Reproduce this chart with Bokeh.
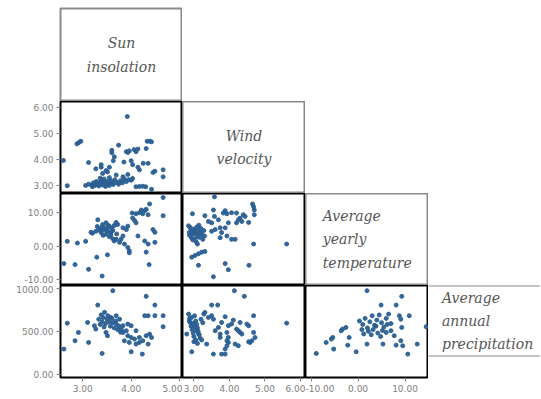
from bokeh.plotting import figure
from bokeh.layouts import gridplot
from bokeh.models import Range1d, FixedTicker, NumeralTickFormatter, Span
from bokeh.core.properties import value
from bokeh.embed import file_html
from bokeh.resources import INLINE

# ---------------- data ----------------
var_labels = ["Sun\ninsolation", "Wind\nvelocity", "Average\nyearly\ntemperature",
              "Average\nannual\nprecipitation"]

sun_ticks = [3, 4, 5]
wind_ticks = [3, 4, 5, 6]
temp_ticks = [-10, 0, 10]
precip_ticks = [0, 500, 1000]

# panel: wind velocity (y) vs sun insolation (x)
sw_sun = [3.92, 2.88, 2.92, 2.96, 4.33, 4.38, 4.42, 4.31, 3.60, 3.60, 3.90, 3.93, 3.96, 4.06, 4.10, 4.14,
          3.74, 2.60, 3.12, 3.38, 3.85, 4.00, 3.65, 3.63, 4.03, 4.14, 4.17, 4.25, 4.35, 4.49, 4.45, 4.66,
          4.66, 3.27, 3.38, 3.48, 3.55, 3.41, 3.51, 3.69, 3.83, 3.93, 4.03, 4.00, 2.68, 4.10, 4.17, 4.24,
          4.30, 4.42, 3.06, 3.12, 3.18, 3.22, 3.25, 3.28, 3.30, 3.33, 3.35, 3.38, 3.40, 3.42, 3.45, 3.47,
          3.50, 3.52, 3.55, 3.58, 3.60, 3.63, 3.66, 3.70, 3.74, 3.78, 3.82, 3.86, 3.90, 3.95, 3.36, 3.44,
          3.55, 3.20]
sw_wind = [5.65, 4.60, 4.65, 4.70, 4.70, 4.70, 4.68, 4.42, 4.26, 4.35, 4.30, 4.27, 4.33, 4.38, 4.30, 4.40,
           4.55, 3.96, 3.88, 3.80, 3.90, 3.95, 4.10, 3.95, 3.80, 3.70, 3.60, 3.85, 3.85, 3.55, 3.50, 3.60,
           3.33, 3.64, 3.70, 3.57, 3.70, 3.46, 3.52, 3.40, 3.33, 3.42, 3.27, 3.20, 2.99, 2.95, 2.96, 2.97,
           2.95, 2.85, 3.00, 3.05, 3.02, 3.10, 3.00, 3.15, 3.05, 2.98, 3.10, 3.20, 3.02, 3.12, 3.05, 2.96,
           3.15, 3.08, 3.00, 3.18, 3.10, 3.04, 3.22, 3.12, 3.05, 3.18, 3.10, 3.25, 3.15, 3.22, 3.28, 3.25,
           3.30, 2.95]

# panel: temperature (y) vs sun insolation (x)
st_sun = [4.66, 4.38, 4.21, 4.28, 4.31, 4.35, 4.24, 4.17, 4.10, 4.02, 4.66, 4.45, 4.49, 4.03, 4.10, 4.07,
          3.93, 3.90, 3.83, 3.69, 3.72, 3.65, 3.31, 3.48, 3.41, 3.55, 3.34, 3.44, 3.27, 3.20, 3.17, 3.51,
          3.38, 3.48, 3.58, 3.55, 3.62, 3.69, 3.65, 3.76, 3.79, 3.83, 3.40, 3.45, 3.50, 3.36, 3.42, 3.58,
          3.60, 3.52, 3.30, 3.62, 3.70, 3.86, 3.93, 3.96, 3.96, 4.14, 4.28, 4.35, 4.49, 4.31, 2.68, 2.89,
          3.06, 2.61, 2.84, 3.29, 3.51, 3.12, 3.40, 4.37]
st_temp = [14.4, 12.5, 10.7, 10.5, 10.9, 9.3, 9.6, 9.9, 9.6, 9.8, 9.0, 4.9, 4.1, 8.3, 6.9, 7.6,
           5.9, 4.9, 5.4, 7.0, 6.4, 6.1, 7.8, 6.9, 6.4, 5.9, 5.1, 4.9, 4.4, 3.8, 4.1, 4.4,
           4.0, 3.5, 4.0, 2.8, 2.2, 2.0, 1.5, 1.1, 2.0, 3.0, 5.6, 5.3, 5.0, 4.6, 3.2, 3.4,
           5.2, 6.2, 5.8, 4.6, 3.6, 0.6, -0.4, -1.4, -2.0, 3.0, 1.5, 0.6, 1.1, -1.8, 1.4, 0.9,
           1.4, -5.2, -5.5, -3.3, -2.6, -6.9, -8.9, -5.5]

# panel: precipitation (y) vs sun insolation (x)
sp_sun = [3.62, 4.31, 4.49, 3.31, 4.28, 4.35, 4.49, 4.66, 4.66, 2.68, 3.10, 3.33, 3.38, 3.40, 3.42, 3.45,
          3.47, 3.50, 3.52, 3.55, 3.57, 3.60, 3.62, 3.65, 3.68, 3.70, 3.72, 3.75, 3.36, 3.44, 3.58, 3.69,
          3.76, 3.80, 3.78, 3.83, 3.86, 3.90, 3.93, 3.96, 4.00, 4.07, 4.10, 4.17, 4.24, 4.31, 4.38, 4.42,
          4.35, 4.17, 4.10, 4.00, 3.93, 3.83, 2.91, 2.84, 3.12, 2.61, 3.40, 3.48, 3.51, 4.00, 4.23, 3.27,
          3.24]
sp_precip = [971, 905, 804, 804, 681, 681, 681, 681, 553, 595, 603, 640, 690, 610, 660, 720,
             590, 640, 680, 610, 560, 650, 600, 540, 620, 580, 520, 560, 580, 550, 661, 681,
             641, 520, 490, 565, 391, 507, 449, 371, 429, 410, 352, 371, 391, 449, 468, 429,
             352, 429, 507, 565, 584, 487, 487, 391, 371, 294, 244, 487, 449, 263, 236, 526,
             565]

# panel: temperature (y) vs wind velocity (x)
wt_wind = [3.58, 4.65, 4.68, 4.70, 4.70, 2.96, 3.31, 3.55, 3.58, 3.88, 3.83, 3.93, 4.06, 4.20, 4.39, 4.30,
           4.25, 4.35, 4.44, 4.54, 4.20, 3.69, 3.50, 3.41, 2.85, 2.90, 2.92, 2.95, 2.98, 3.00, 3.02, 3.05,
           3.08, 3.10, 3.12, 3.15, 3.18, 3.20, 3.22, 3.25, 3.28, 3.30, 2.88, 2.93, 2.97, 3.03, 3.07, 3.14,
           2.87, 3.10, 3.50, 3.60, 3.74, 3.88, 3.78, 3.93, 4.06, 3.74, 3.97, 4.16, 4.68, 5.61, 2.94, 3.03,
           3.13, 3.22, 3.31, 3.13, 3.88, 3.97, 4.55, 3.55]
wt_temp = [14.6, 12.5, 11.7, 10.7, 9.3, 9.6, 9.0, 10.7, 8.8, 10.5, 9.8, 9.6, 9.9, 9.8, 9.3, 8.3,
           7.8, 7.3, 8.8, 7.0, 6.9, 7.8, 6.9, 7.3, 6.0, 5.5, 4.8, 4.2, 3.6, 5.0, 4.4, 3.8,
           5.6, 3.2, 4.6, 2.6, 4.0, 5.2, 3.4, 2.0, 4.6, 3.0, 3.2, 2.5, 1.8, 2.2, 1.2, 6.2,
           4.0, 0.6, 4.4, 4.9, 5.4, 5.4, 4.0, 3.0, 2.0, 2.5, 6.9, 2.0, 0.6, 0.6, -3.3, -2.8,
           -2.3, -1.8, -1.6, -5.7, -5.2, -7.0, -5.7, -9.1]

# panel: precipitation (y) vs wind velocity (x)
wp_wind = [4.14, 4.42, 3.50, 3.67, 4.68, 5.61, 3.31, 3.50, 3.55, 3.41, 3.88, 4.11, 4.30, 4.06, 3.78, 3.97,
           3.69, 3.60, 3.74, 3.74, 3.93, 3.97, 3.93, 3.97, 3.93, 3.88, 4.20, 4.25, 4.30, 4.35, 4.49, 4.54,
           4.68, 4.72, 4.63, 4.58, 4.54, 4.25, 4.16, 3.78, 3.88, 3.55, 3.36, 2.94, 2.80, 2.85, 2.88, 2.90,
           2.92, 2.95, 2.98, 3.00, 3.02, 3.05, 3.08, 3.10, 3.12, 3.15, 3.18, 3.00, 3.05, 2.87, 2.93, 2.97,
           3.03, 3.07, 3.13, 3.20, 3.25, 3.28, 3.10, 3.22]
wp_precip = [971, 905, 804, 804, 681, 595, 719, 681, 641, 661, 669, 630, 603, 584, 603, 565,
             545, 507, 468, 429, 487, 429, 391, 371, 333, 294, 526, 507, 487, 468, 584, 565,
             487, 429, 391, 371, 379, 333, 352, 236, 236, 236, 352, 263, 468, 700, 650, 600,
             560, 520, 480, 440, 680, 620, 580, 540, 500, 460, 420, 380, 400, 620, 660, 590,
             550, 510, 470, 640, 600, 700, 360, 400]

# panel: precipitation (y) vs temperature (x)
tp_temp = [1.9, 9.3, 4.9, 8.1, 8.8, 10.9, 9.1, 14.5, 9.3, 0.3, 1.0, 1.5, 2.0, 2.5, 3.0, 3.5,
           4.0, 4.5, 5.0, 5.5, 6.0, 6.5, 7.0, 2.2, 3.2, 4.2, 5.2, 1.2, 0.8, 3.8, 6.2, 2.8,
           4.8, -2.6, -3.3, -3.6, -5.4, -5.7, -6.8, -1.9, -2.2, -5.2, -8.9, -0.4, 1.9, 5.3,
           8.1, 9.1, 9.5, 12.6, 10.6, 7.0, 7.7, 6.0]
tp_precip = [971, 905, 804, 804, 681, 681, 641, 553, 545, 620, 580, 650, 540, 610, 680, 570,
             630, 690, 600, 550, 650, 700, 590, 500, 520, 480, 510, 470, 520, 560, 580, 460,
             440, 545, 526, 507, 429, 410, 371, 429, 340, 294, 244, 263, 352, 352,
             340, 391, 333, 352, 236, 507, 449, 487]

# ---------------- styling ----------------
POINT = "#2a5f92"
TICK_GRAY = "#808080"
LABEL_GRAY = "#555555"
BOX_GRAY = "#8a8a8a"

sun_r = (2.54, 5.06)
wind_xr = (2.68, 6.14)
wind_yr = (2.69, 6.23)
temp_xr = (-11.2, 15.0)
temp_yr = (-11.7, 15.6)
precip_yr = (-35, 1031)

LEFT = 60
TOP = 8
BOTTOM = 21
W0, W1, W2, W3 = 122, 123, 123, 112
H0, H = 93, 92


def style_axis(ax, ticks):
    ax.ticker = FixedTicker(ticks=ticks)
    ax.formatter = NumeralTickFormatter(format="0.00")
    ax.major_label_text_font = "DejaVu Sans"
    ax.major_label_text_font_size = "9px"
    ax.major_label_text_color = TICK_GRAY
    ax.major_tick_line_color = TICK_GRAY
    ax.major_tick_out = 4
    ax.major_tick_in = 0
    ax.minor_tick_line_color = None
    ax.axis_line_color = "black"
    ax.major_label_standoff = 3


def base_fig(fw, fh, xr, yr, left=False, bottom=False, top=0, axes=True):
    p = figure(width=fw + (LEFT if left else 0), height=fh + (BOTTOM if bottom else 0) + top,
               x_range=Range1d(*xr), y_range=Range1d(*yr),
               output_backend="svg", toolbar_location=None,
               x_axis_location="below" if (bottom and axes) else None,
               y_axis_location="left" if (left and axes) else None,
               min_border_left=LEFT if left else 0, min_border_right=0,
               min_border_top=top, min_border_bottom=BOTTOM if bottom else 0)
    p.grid.visible = False
    p.background_fill_color = "white"
    p.border_fill_color = "white"
    p.outline_line_color = "black"
    p.outline_line_width = 2
    return p


def scatter_fig(fw, fh, xs, ys, xr, yr, xticks, yticks, left=False, bottom=False):
    p = base_fig(fw, fh, xr, yr, left, bottom)
    p.scatter(xs, ys, size=4, fill_color=POINT, line_color=POINT, fill_alpha=0.95, line_alpha=0.95)
    if left:
        style_axis(p.yaxis[0], yticks)
    if bottom:
        style_axis(p.xaxis[0], xticks)
    return p


def label_fig(fw, fh, text, align, xpos, left=False, top=0, open_right=False):
    p = base_fig(fw, fh, (0, 1), (0, 1), left, False, top=top, axes=False)
    p.outline_line_color = BOX_GRAY
    p.outline_line_width = 2
    if open_right:
        p.outline_line_color = None
        p.add_layout(Span(location=1, dimension="width", line_color=BOX_GRAY, line_width=2))
        p.add_layout(Span(location=0, dimension="width", line_color=BOX_GRAY, line_width=2))
    p.text(x=[xpos], y=[0.5], text=[text], text_align=align, text_baseline="middle",
           text_font=value("DejaVu Serif"), text_font_style="italic", text_font_size="14px",
           text_color=LABEL_GRAY, text_line_height=1.45)
    return p


lab_sun = label_fig(W0, H0, var_labels[0], "center", 0.5, left=True, top=TOP)
lab_wind = label_fig(W1, H, var_labels[1], "center", 0.5)
lab_temp = label_fig(W2, H, var_labels[2], "left", 0.14)
lab_prec = label_fig(W3, H, var_labels[3], "left", 0.12, open_right=True)

p_sw = scatter_fig(W0, H, sw_sun, sw_wind, sun_r, wind_yr, sun_ticks, wind_ticks, left=True)
p_st = scatter_fig(W0, H, st_sun, st_temp, sun_r, temp_yr, sun_ticks, temp_ticks, left=True)
p_sp = scatter_fig(W0, H, sp_sun, sp_precip, sun_r, precip_yr, sun_ticks, precip_ticks, left=True, bottom=True)
p_wt = scatter_fig(W1, H, wt_wind, wt_temp, wind_xr, temp_yr, wind_ticks, temp_ticks)
p_wp = scatter_fig(W1, H, wp_wind, wp_precip, wind_xr, precip_yr, wind_ticks, precip_ticks, bottom=True)
p_tp = scatter_fig(W2, H, tp_temp, tp_precip, temp_xr, precip_yr, temp_ticks, precip_ticks, bottom=True)

grid = gridplot([
    [lab_sun, None, None, None],
    [p_sw, lab_wind, None, None],
    [p_st, p_wt, lab_temp, None],
    [p_sp, p_wp, p_tp, lab_prec],
], toolbar_location=None)

open("out.html", "w").write(file_html(grid, INLINE))
